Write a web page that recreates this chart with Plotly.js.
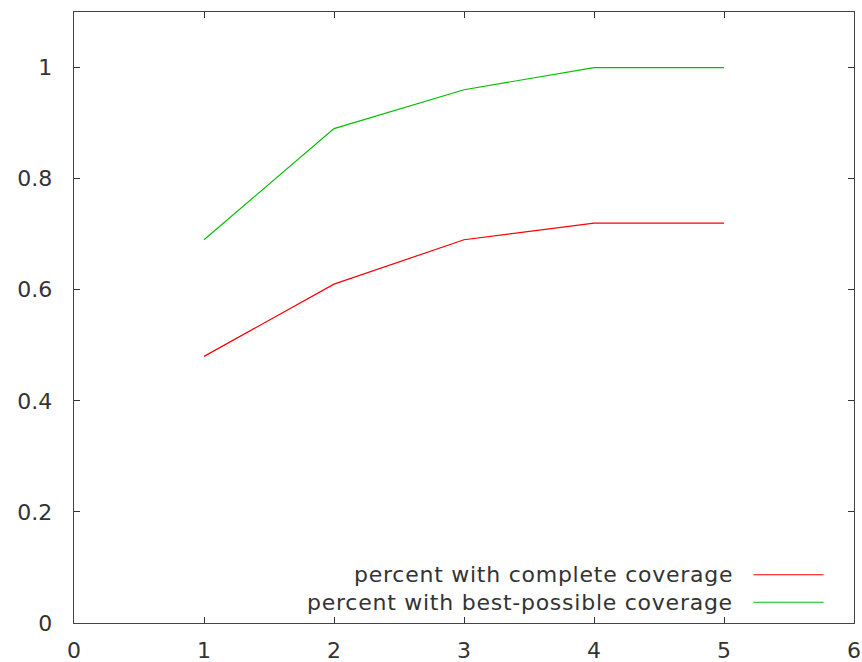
<!DOCTYPE html>
<html>
<head>
<meta charset="utf-8">
<script src="https://cdn.plot.ly/plotly-3.0.1.min.js"></script>
<style>
html,body{margin:0;padding:0;background:#fff;}
#chart{width:862px;height:662px;}
.annotation-text{letter-spacing:0.75px;}
</style>
</head>
<body>
<div id="chart"></div>
<script>
const xValues = [1, 2, 3, 4, 5];
const completeCoverage = [0.48, 0.61, 0.69, 0.72, 0.72];
const bestPossibleCoverage = [0.69, 0.89, 0.96, 1.0, 1.0];
const seriesNames = ["percent with complete coverage", "percent with best-possible coverage"];
const seriesColors = ["#ff0000", "#00c000"];
const xTicks = [0, 1, 2, 3, 4, 5, 6];
const yTicks = [0, 0.2, 0.4, 0.6, 0.8, 1];

const font = {family: "DejaVu Sans, sans-serif", size: 22, color: "#333333"};

const traces = [
  {x: xValues, y: completeCoverage, name: seriesNames[0], mode: "lines", line: {color: seriesColors[0], width: 1.2}, showlegend: false},
  {x: xValues, y: bestPossibleCoverage, name: seriesNames[1], mode: "lines", line: {color: seriesColors[1], width: 1.2}, showlegend: false}
];

// gnuplot-style key: text right-aligned, sample line on the right
const keyTextX = 0.847, keyLineX0 = 0.871, keyLineX1 = 0.961;
const keyY = [0.079, 0.034];
const annotations = seriesNames.map((n, i) => ({
  xref: "paper", yref: "paper", x: keyTextX, y: keyY[i], xanchor: "right", yanchor: "middle",
  text: n, showarrow: false, font: font
}));
const shapes = seriesNames.map((n, i) => ({
  type: "line", xref: "paper", yref: "paper", x0: keyLineX0, x1: keyLineX1, y0: keyY[i], y1: keyY[i],
  line: {color: seriesColors[i], width: 1.2}
}));

const layout = {
  width: 862, height: 662,
  margin: {l: 74, r: 8, t: 12, b: 38.5},
  paper_bgcolor: "#ffffff", plot_bgcolor: "#ffffff",
  font: font,
  showlegend: false,
  xaxis: {
    range: [0, 6], tickvals: xTicks, ticktext: xTicks.map(String),
    ticks: "inside", ticklen: 6, tickcolor: "#333333", tickwidth: 1,
    showline: true, linecolor: "#444444", linewidth: 1.3, mirror: "ticks",
    showgrid: false, zeroline: false, ticklabelstandoff: 7
  },
  yaxis: {
    range: [0, 1.1], tickvals: yTicks, ticktext: yTicks.map(String),
    ticks: "inside", ticklen: 6, tickcolor: "#333333", tickwidth: 1,
    showline: true, linecolor: "#444444", linewidth: 1.3, mirror: "ticks",
    showgrid: false, zeroline: false, ticklabelstandoff: 16
  },
  annotations: annotations,
  shapes: shapes
};

Plotly.newPlot("chart", traces, layout, {displayModeBar: false, staticPlot: true});
</script>
</body>
</html>
